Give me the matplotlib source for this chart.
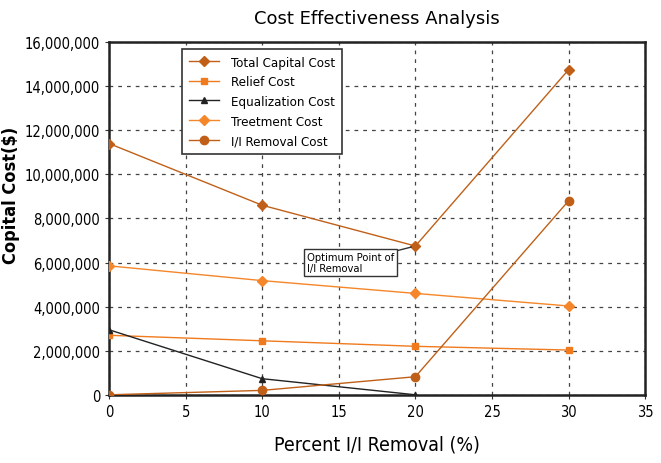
import numpy as np
import matplotlib.pyplot as plt
from matplotlib.ticker import FuncFormatter

# Данные
pct = [0, 10, 20, 30]
total_capital = [11400000, 8600000, 6750000, 14750000]
relief = [2700000, 2450000, 2200000, 2030000]
equal_x = [0, 10, 20]
equalization = [2950000, 730000, 0]
treatment = [5850000, 5180000, 4600000, 4030000]
ii_removal = [0, 200000, 820000, 8800000]

plt.rcParams['font.family'] = ['DejaVu Sans']
plt.rcParams['font.stretch'] = 'condensed'

fig = plt.figure(figsize=(6.61, 4.64), dpi=100)
ax = fig.add_axes([0.165, 0.147, 0.811, 0.76])

dark = '#c06018'
orange = '#f07a1e'
ax.plot(pct, total_capital, color=dark, marker='D', ms=5, lw=1, label='Total Capital Cost', zorder=4)
ax.plot(pct, relief, color=orange, marker='s', ms=5, lw=1, label='Relief Cost', zorder=4)
ax.plot(equal_x, equalization, color='#222222', marker='^', ms=5, lw=1, label='Equalization Cost', zorder=4)
ax.plot(pct, treatment, color='#f5862a', marker='D', ms=5, lw=1, label='Treetment Cost', zorder=4)
ax.plot(pct, ii_removal, color=dark, marker='o', ms=6, lw=1, label='I/I Removal Cost', zorder=4)

ax.set_xlim(0, 35)
ax.set_ylim(0, 16000000)
ax.set_xticks(np.arange(0, 36, 5))
ax.set_yticks(np.arange(0, 16000001, 2000000))
ax.yaxis.set_major_formatter(FuncFormatter(lambda v, p: f'{int(v):,}'))
ax.tick_params(labelsize=10.5, length=3, color='#333333')
ax.grid(True, color='#444444', linestyle=(0, (3, 4)), lw=0.9)
for s in ax.spines.values():
    s.set_linewidth(1.8)
    s.set_color('#222222')

ax.set_title('Cost Effectiveness Analysis', fontsize=13, fontstretch='normal', pad=14)
ax.set_xlabel('Percent I/I Removal (%)', fontsize=14, labelpad=11)
ax.set_ylabel('Copital Cost($)', fontsize=13, fontweight='bold')
ax.yaxis.set_label_coords(20 / 661, 1 - 195 / 464, transform=fig.transFigure)

leg = ax.legend(loc='upper left', bbox_to_anchor=(0.136, 0.98), borderaxespad=0,
                fontsize=9.5, fancybox=False, edgecolor='#333333', framealpha=1,
                handlelength=2.3, handletextpad=0.9, borderpad=0.5, labelspacing=0.5)
leg.get_frame().set_linewidth(1.2)

ax.annotate('Optimum Point of\nI/I Removal', xy=(20, 6750000), xytext=(12.9, 6000000),
            fontsize=8, ha='left', va='center',
            bbox=dict(boxstyle='square,pad=0.25', fc='white', ec='#333333', lw=1),
            arrowprops=dict(arrowstyle='-', color='#333333', lw=1, shrinkA=0, shrinkB=3),
            zorder=5)

fig.savefig('out.png', dpi=100)
